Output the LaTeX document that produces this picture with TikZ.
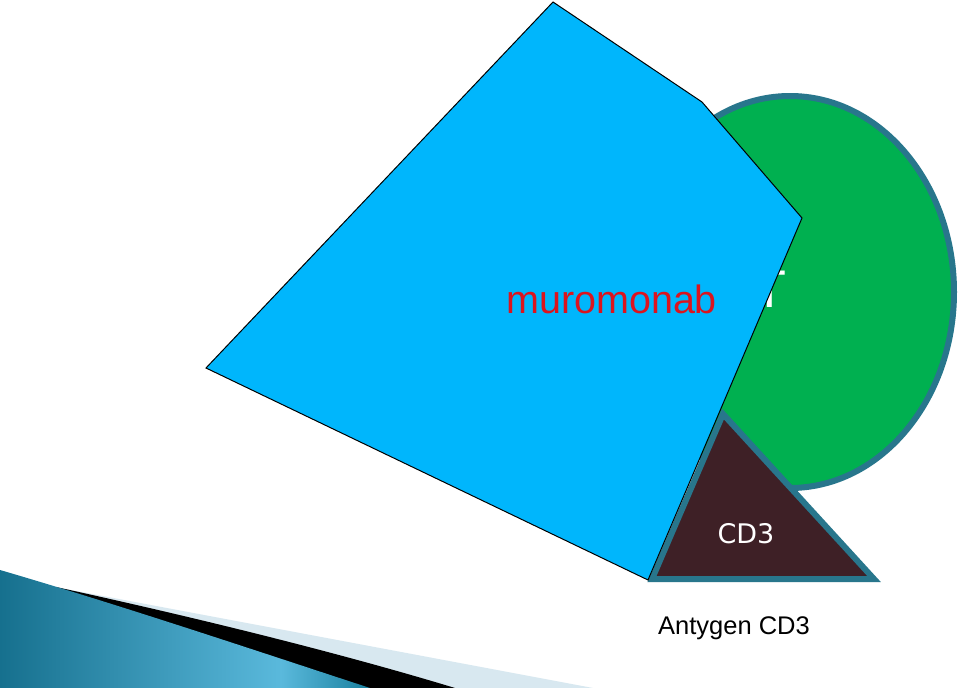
\documentclass[tikz,border=0pt]{standalone}
\usepackage{fontspec}
\setmainfont{Liberation Sans}
\newfontfamily\dejavu{DejaVu Sans}

\definecolor{cellgreen}{RGB}{0,176,80}
\definecolor{rim}{RGB}{40,118,140}
\definecolor{abblue}{RGB}{0,182,252}
\definecolor{cdfill}{RGB}{62,32,38}
\definecolor{labred}{RGB}{220,20,30}
\definecolor{swA}{RGB}{22,112,142}
\definecolor{swB}{RGB}{90,185,220}
\definecolor{swC}{RGB}{25,128,158}
\definecolor{swlight}{RGB}{216,232,240}

\pgfdeclarehorizontalshading{swooshshade}{100bp}{color(0bp)=(swA); color(25bp)=(swA); color(63bp)=(swB); color(75bp)=(swC); color(100bp)=(swC)}

\tikzset{
  rimline/.style={draw=rim, line width=6, line join=miter},
  txt/.style={inner sep=0, anchor=base}
}

\begin{document}
\begin{tikzpicture}[x=1pt,y=-1pt]
\useasboundingbox (0,0) rectangle (959,688);
\fill[white] (0,0) rectangle (959,688);

% decorative swoosh
\fill[swlight] (55,587) -- (593,688) -- (0,688) -- cycle;
\fill[black] (56,587) .. controls (180,614) and (330,650) .. (455,688) -- (0,688) -- cycle;
\shade[shading=swooshshade] (0,570) .. controls (120,605) and (260,652) .. (370,688) -- (0,688) -- cycle;

% cell
\path[rimline, fill=cellgreen] (790,292) ellipse [x radius=164, y radius=196];
\node[txt, font=\dejavu\fontsize{50}{60}\selectfont, text=white] (tcell) at (770,307) {T};

% antigen
\path[rimline, fill=cdfill] (723,414) -- (652,579) -- (874,579) -- cycle;

% antibody
\draw[black, line width=1, fill=abblue, line join=miter] (553,2) -- (702,102) -- (802,218) -- (648,580) -- (206,368) -- cycle;

% labels
\node[inner sep=0, anchor=base west, font=\fontsize{39.5}{47}\selectfont, text=labred] (mab) at (506,313) {muromonab};
\node[txt, font=\dejavu\fontsize{27}{32}\selectfont, text=white] (cd3) at (746,543) {CD3};
\node[txt, font=\fontsize{25.5}{30}\selectfont, text=black] (antigen) at (734,634) {Antygen CD3};
\end{tikzpicture}
\end{document}
